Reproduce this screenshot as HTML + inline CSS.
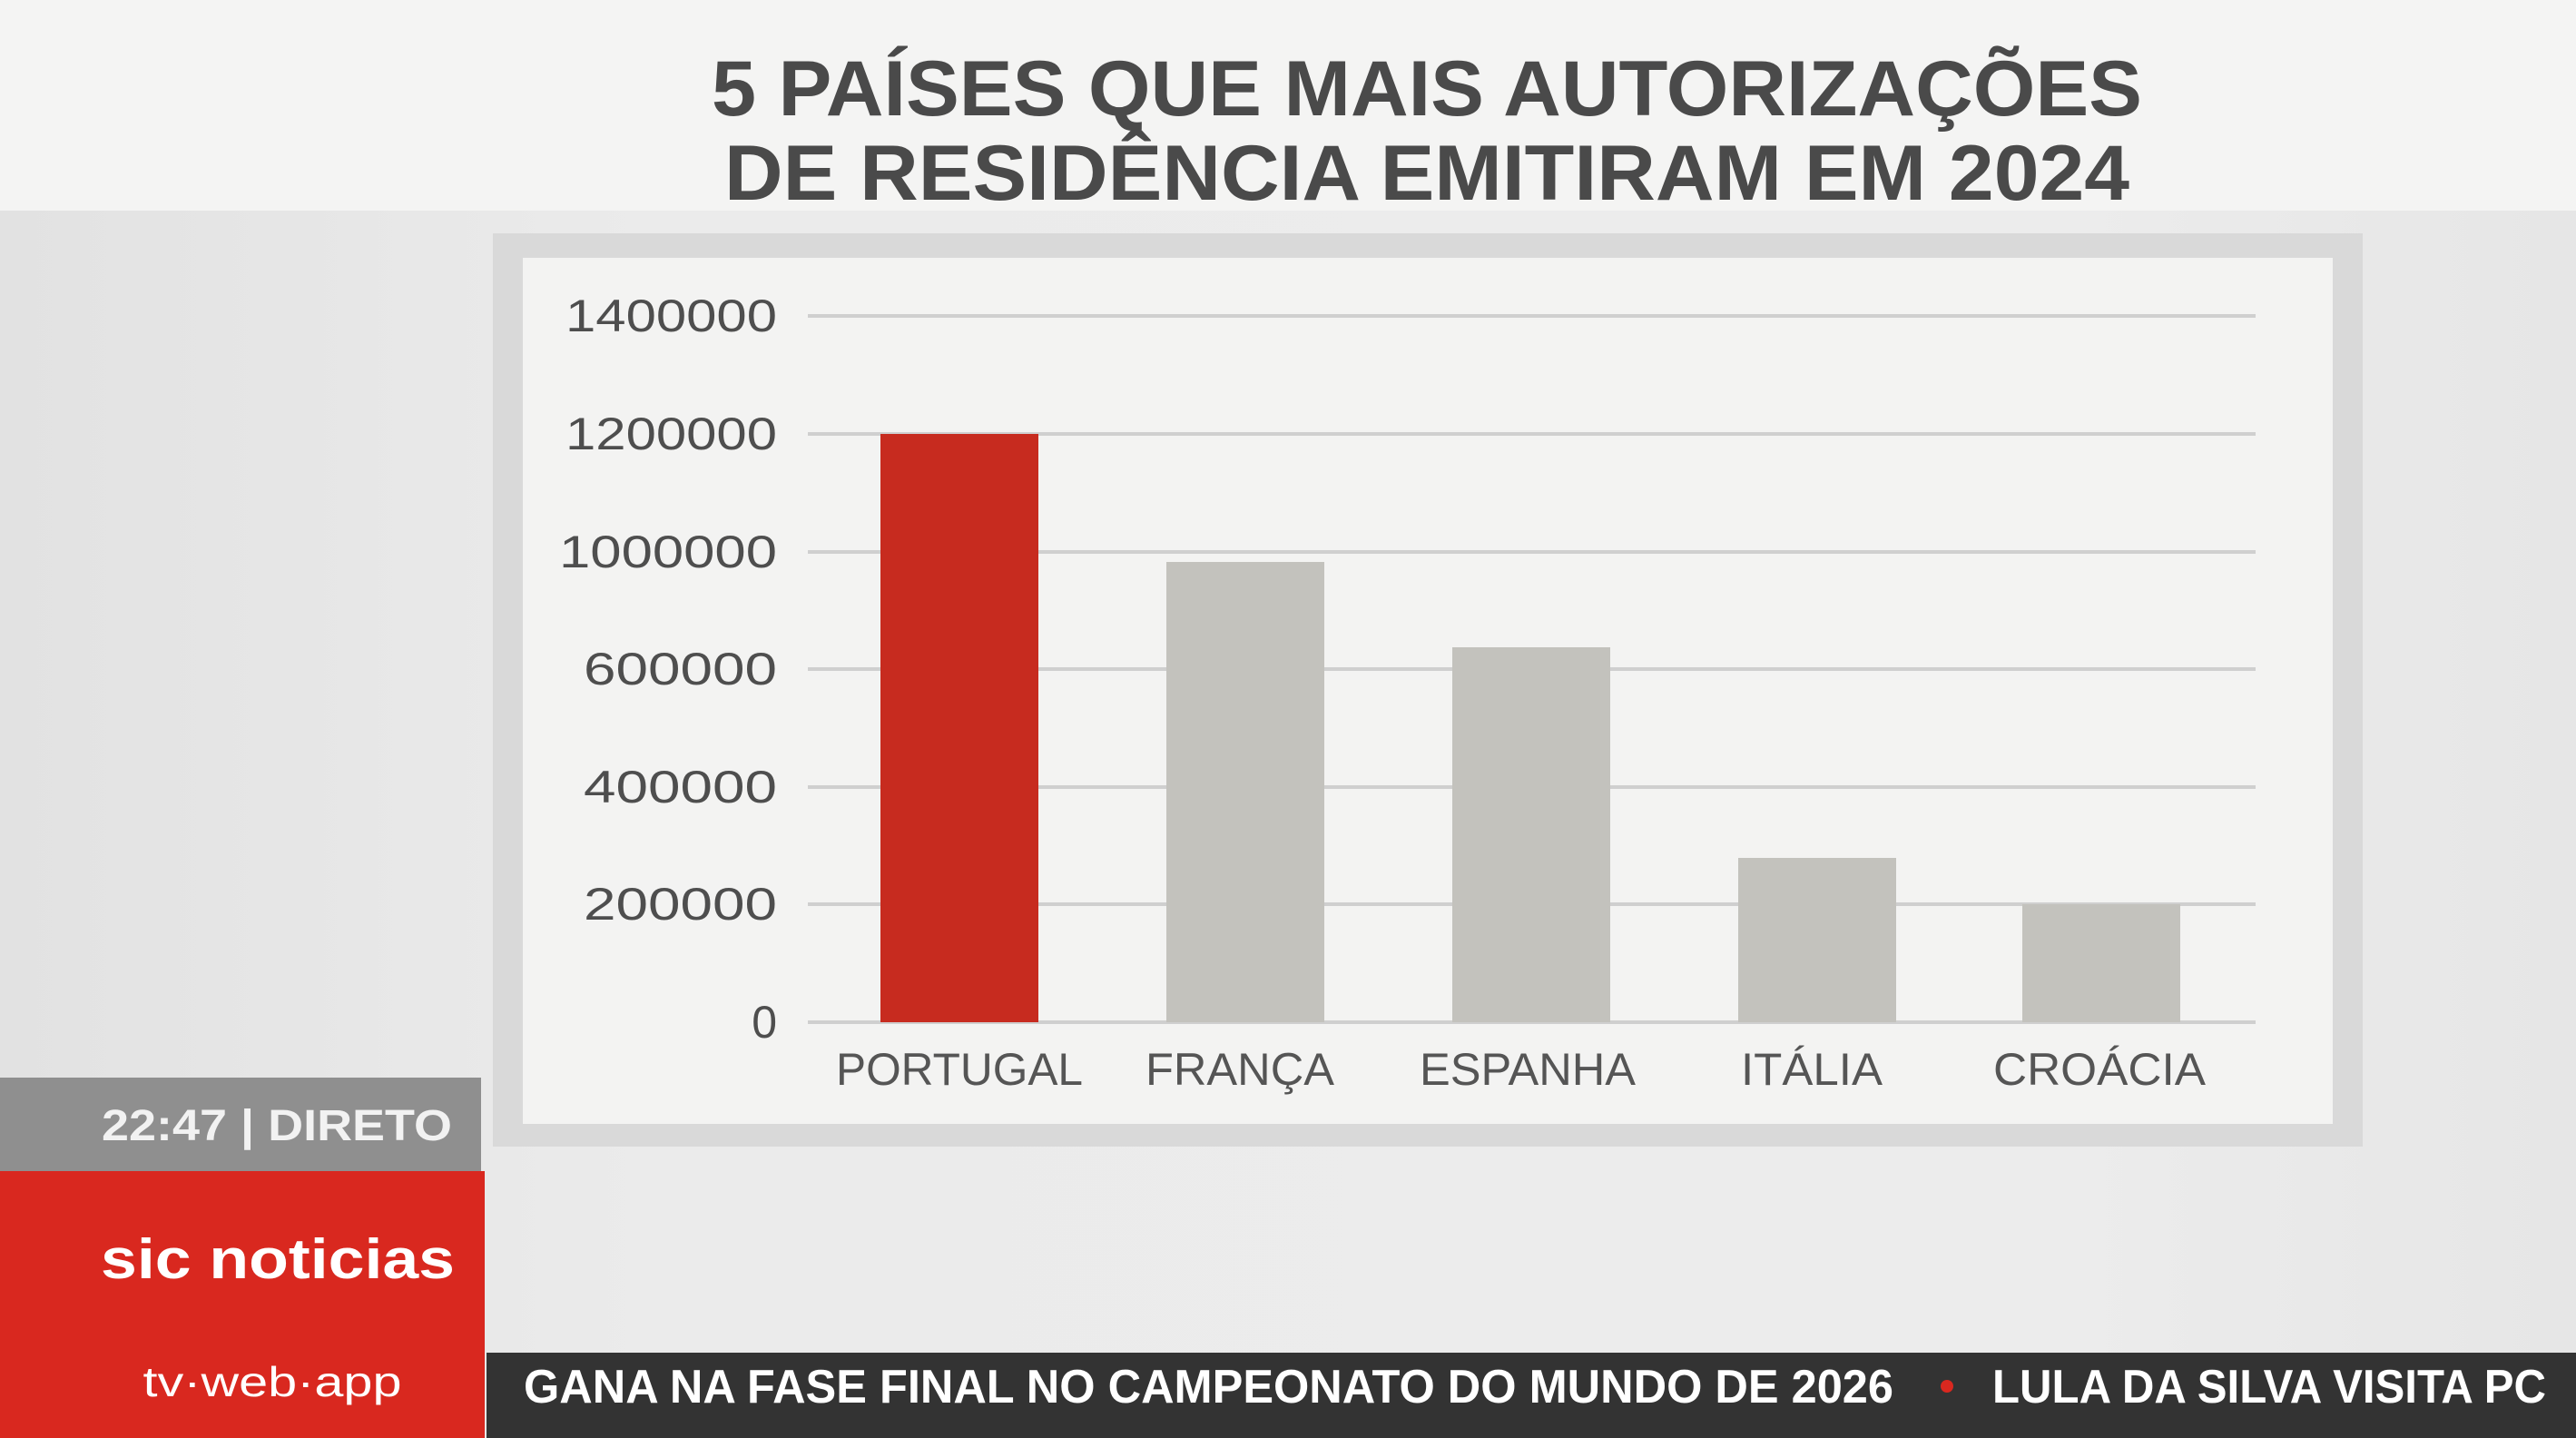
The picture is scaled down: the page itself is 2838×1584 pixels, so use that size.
<!DOCTYPE html>
<html><head><meta charset="utf-8"><style>
html,body{margin:0;padding:0;width:2838px;height:1584px;overflow:hidden;background:#ececec}
svg{display:block}
text{font-family:"Liberation Sans","DejaVu Sans",sans-serif}
</style></head><body>
<svg width="2838" height="1584" viewBox="0 0 2838 1584" xmlns="http://www.w3.org/2000/svg">
<defs>
<linearGradient id="bg" x1="0" y1="0" x2="1" y2="0">
<stop offset="0" stop-color="#e2e2e2"/><stop offset="0.25" stop-color="#ebebeb"/><stop offset="0.8" stop-color="#ececec"/><stop offset="1" stop-color="#e6e6e6"/>
</linearGradient>
</defs>
<rect x="0" y="0" width="2838" height="1584" fill="url(#bg)"/>
<rect x="0" y="0" width="2838" height="232" fill="#f4f4f3"/>
<text x="1572" y="127" text-anchor="middle" font-size="86" font-weight="bold" fill="#4a4a4a" textLength="1576" lengthAdjust="spacingAndGlyphs">5 PAÍSES QUE MAIS AUTORIZAÇÕES</text>
<text x="1572" y="220" text-anchor="middle" font-size="86" font-weight="bold" fill="#4a4a4a" textLength="1548" lengthAdjust="spacingAndGlyphs">DE RESIDÊNCIA EMITIRAM EM 2024</text>
<!-- chart frame -->
<rect x="543" y="257" width="2060" height="1006" fill="#d9d9d9"/>
<rect x="576" y="284" width="1994" height="954" fill="#f3f3f2"/>
<g stroke="#cfcfcf" stroke-width="4">
<line x1="890" y1="348" x2="2485" y2="348"/>
<line x1="890" y1="478" x2="2485" y2="478"/>
<line x1="890" y1="608" x2="2485" y2="608"/>
<line x1="890" y1="737" x2="2485" y2="737"/>
<line x1="890" y1="867" x2="2485" y2="867"/>
<line x1="890" y1="996" x2="2485" y2="996"/>
<line x1="890" y1="1126" x2="2485" y2="1126"/>
</g>
<g font-size="50" fill="#4e4e4e" text-anchor="end">
<text x="856" y="365" textLength="233" lengthAdjust="spacingAndGlyphs">1400000</text>
<text x="856" y="495" textLength="233" lengthAdjust="spacingAndGlyphs">1200000</text>
<text x="856" y="625" textLength="240" lengthAdjust="spacingAndGlyphs">1000000</text>
<text x="856" y="754" textLength="213" lengthAdjust="spacingAndGlyphs">600000</text>
<text x="856" y="884" textLength="213" lengthAdjust="spacingAndGlyphs">400000</text>
<text x="856" y="1013" textLength="213" lengthAdjust="spacingAndGlyphs">200000</text>
<text x="856" y="1143">0</text>
</g>
<rect x="970" y="478" width="174" height="648" fill="#c72b1f"/>
<rect x="1285" y="619" width="174" height="507" fill="#c3c2bd"/>
<rect x="1600" y="713" width="174" height="413" fill="#c3c2bd"/>
<rect x="1915" y="945" width="174" height="181" fill="#c3c2bd"/>
<rect x="2228" y="996" width="174" height="130" fill="#c3c2bd"/>
<g font-size="50" fill="#555" text-anchor="middle">
<text x="1057" y="1195" textLength="272" lengthAdjust="spacingAndGlyphs">PORTUGAL</text>
<text x="1366" y="1195" textLength="208" lengthAdjust="spacingAndGlyphs">FRANÇA</text>
<text x="1683" y="1195" textLength="238" lengthAdjust="spacingAndGlyphs">ESPANHA</text>
<text x="1996" y="1195" textLength="156" lengthAdjust="spacingAndGlyphs">ITÁLIA</text>
<text x="2313" y="1195" textLength="234" lengthAdjust="spacingAndGlyphs">CROÁCIA</text>
</g>
<!-- left block -->
<rect x="0" y="1187" width="530" height="103" fill="#8f8f8f"/>
<text x="498" y="1256" text-anchor="end" font-size="48" font-weight="bold" fill="#f2f2f2" textLength="386" lengthAdjust="spacingAndGlyphs">22:47  |  DIRETO</text>
<rect x="0" y="1290" width="534" height="294" fill="#d9281f"/>
<text x="306" y="1408" text-anchor="middle" font-size="62" font-weight="bold" fill="#ffffff" textLength="390" lengthAdjust="spacingAndGlyphs">sic noticias</text>
<text x="300" y="1538" text-anchor="middle" font-size="46" fill="#ffffff" textLength="285" lengthAdjust="spacingAndGlyphs">tv·web·app</text>
<!-- ticker -->
<rect x="536" y="1490" width="2302" height="94" fill="#333333"/>
<text x="577" y="1545" font-size="52" font-weight="bold" fill="#ffffff" textLength="1509" lengthAdjust="spacingAndGlyphs">GANA NA FASE FINAL NO CAMPEONATO DO MUNDO DE 2026</text>
<circle cx="2145" cy="1527" r="7" fill="#d9281f"/>
<text x="2195" y="1545" font-size="52" font-weight="bold" fill="#ffffff" textLength="610" lengthAdjust="spacingAndGlyphs">LULA DA SILVA VISITA PC</text>
</svg>
</body></html>
